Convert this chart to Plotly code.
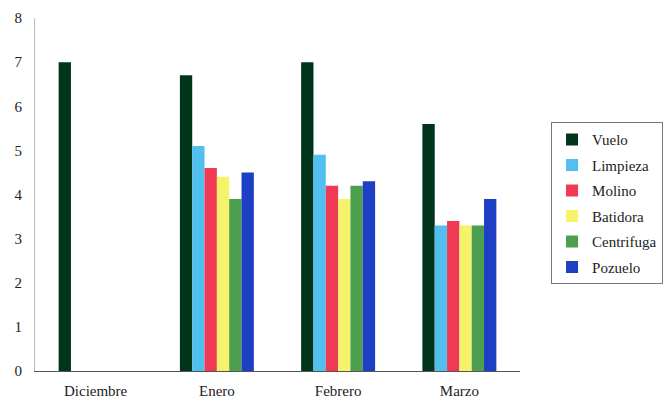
import plotly.graph_objects as go

# Months on the category axis
meses = ["Diciembre", "Enero", "Febrero", "Marzo"]

# Values per series (one value per month)
vuelo = [7.0, 6.7, 7.0, 5.6]
limpieza = [0, 5.1, 4.9, 3.3]
molino = [0, 4.6, 4.2, 3.4]
batidora = [0, 4.4, 3.9, 3.3]
centrifuga = [0, 3.9, 4.2, 3.3]
pozuelo = [0, 4.5, 4.3, 3.9]

series = [
    ("Vuelo", vuelo, "#01351b"),
    ("Limpieza", limpieza, "#52c0ee"),
    ("Molino", molino, "#f03a55"),
    ("Batidora", batidora, "#f6f26a"),
    ("Centrifuga", centrifuga, "#4c9f4f"),
    ("Pozuelo", pozuelo, "#1c3fc4"),
]

fig = go.Figure()
for name, vals, color in series:
    fig.add_trace(go.Bar(x=meses, y=vals, name=name, legendgroup=name,
                         marker=dict(color=color, line=dict(width=0))))

serif = "Times New Roman, Liberation Serif, DejaVu Serif, serif"
fig.update_layout(
    width=666, height=401,
    margin=dict(l=35, r=146, t=18, b=30, autoexpand=False),
    barmode="group", bargap=0.39, bargroupgap=0,
    plot_bgcolor="white", paper_bgcolor="white",
    font=dict(family=serif, size=15, color="#222222"),
    showlegend=True,
    legend=dict(x=1.064, y=0.705, xanchor="left", yanchor="top",
                bordercolor="#777777", borderwidth=1,
                font=dict(family=serif, size=15, color="#222222"),
                itemwidth=30, tracegroupgap=3, bgcolor="white"),
    xaxis=dict(showline=True, linecolor="#555555", linewidth=1,
               ticks="", showgrid=False, tickfont=dict(family=serif, size=15),
               ticklabelstandoff=6),
    yaxis=dict(range=[0, 8], dtick=1, showline=True, linecolor="#bbbbbb",
               linewidth=1, ticks="", showgrid=False, zeroline=False,
               tickfont=dict(family=serif, size=15), ticklabelstandoff=9),
)

fig.write_html("out.html")
